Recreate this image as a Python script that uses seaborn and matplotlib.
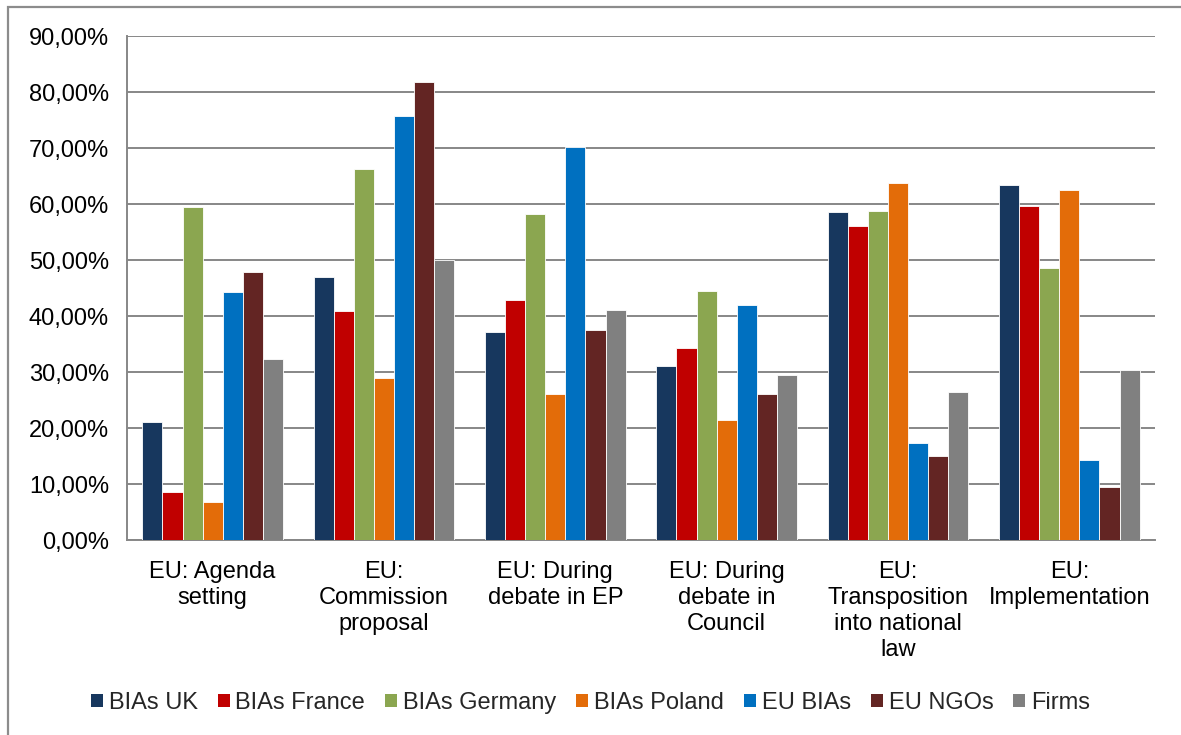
import matplotlib
matplotlib.use("Agg")
import matplotlib.pyplot as plt
from matplotlib.patches import Rectangle, Patch
from matplotlib.ticker import FuncFormatter, MultipleLocator
import seaborn as sns
import pandas as pd

stages = [
    "EU: Agenda\nsetting",
    "EU:\nCommission\nproposal",
    "EU: During\ndebate in EP",
    "EU: During\ndebate in\nCouncil",
    "EU:\nTransposition\ninto national\nlaw",
    "EU:\nImplementation",
]
groups = ["BIAs UK", "BIAs France", "BIAs Germany", "BIAs Poland", "EU BIAs", "EU NGOs", "Firms"]

bias_uk = [21.0, 47.0, 37.2, 31.0, 58.5, 63.4]
bias_france = [8.5, 40.9, 42.8, 34.3, 56.0, 59.6]
bias_germany = [59.5, 66.3, 58.3, 44.4, 58.8, 48.5]
bias_poland = [6.8, 28.9, 26.1, 21.4, 63.8, 62.5]
eu_bias = [44.3, 75.8, 70.2, 42.0, 17.4, 14.3]
eu_ngos = [47.8, 81.8, 37.5, 26.1, 15.0, 9.5]
firms = [32.4, 50.0, 41.1, 29.4, 26.5, 30.3]

colors = ["#17375E", "#C00000", "#8BA650", "#E36C09", "#0070C0", "#632523", "#808080"]

series = [bias_uk, bias_france, bias_germany, bias_poland, eu_bias, eu_ngos, firms]
rows = []
for g, vals in zip(groups, series):
    for s, v in zip(stages, vals):
        rows.append({"stage": s, "group": g, "value": v})
df = pd.DataFrame(rows)

sns.set_style("white")
plt.rcParams["font.family"] = ["Liberation Sans", "DejaVu Sans"]

fig = plt.figure(figsize=(11.81, 7.35), dpi=100)
ax = fig.add_axes([127 / 1181, 1 - 540 / 735, (1155 - 127) / 1181, (540 - 36) / 735])

sns.barplot(data=df, x="stage", y="value", hue="group", order=stages, hue_order=groups,
            palette=colors, width=0.82, saturation=1, errorbar=None, ax=ax,
            edgecolor="white", linewidth=0.6, legend=False, zorder=3)

ax.set_ylim(0, 90)
ax.set_xlim(-0.5, len(stages) - 0.5)
ax.yaxis.set_major_locator(MultipleLocator(10))
ax.yaxis.set_major_formatter(FuncFormatter(lambda v, p: f"{v:.2f}%".replace(".", ",")))
ax.grid(axis="y", color="#878787", linewidth=1.4, zorder=0)
ax.set_axisbelow(True)
ax.set_xlabel("")
ax.set_ylabel("")

for side in ["top", "right"]:
    ax.spines[side].set_visible(False)
for side in ["left", "bottom"]:
    ax.spines[side].set_color("#878787")
    ax.spines[side].set_linewidth(1.4)

# category labels centred, separator ticks between categories
ax.set_xticks(range(len(stages)))
ax.set_xticklabels(stages, fontsize=17, linespacing=1.24, color="black")
ax.tick_params(axis="x", length=0, pad=15)
ax.set_xticks([i - 0.5 for i in range(len(stages) + 1)], minor=True)
ax.tick_params(axis="x", which="minor", length=7, width=1.4, color="#878787", direction="out")
ax.tick_params(axis="y", length=7, width=1.4, color="#878787", direction="out",
               labelsize=17, pad=6, labelcolor="black")

handles = [Patch(facecolor=c, edgecolor="none") for c in colors]
fig.legend(handles, groups, loc="center", bbox_to_anchor=(0.5, 1 - 703 / 735), ncol=7,
           frameon=False, fontsize=17, handlelength=0.5, handleheight=0.5,
           handletextpad=0.25, columnspacing=0.85, borderpad=0)

# outer chart frame
fig.patches.append(Rectangle((8 / 1181, -0.05), 1.1, 1 - 7 / 735 + 0.05, transform=fig.transFigure,
                             fill=False, edgecolor="#8c8c8c", linewidth=1.6, zorder=0))

fig.savefig("out.png", dpi=100)
